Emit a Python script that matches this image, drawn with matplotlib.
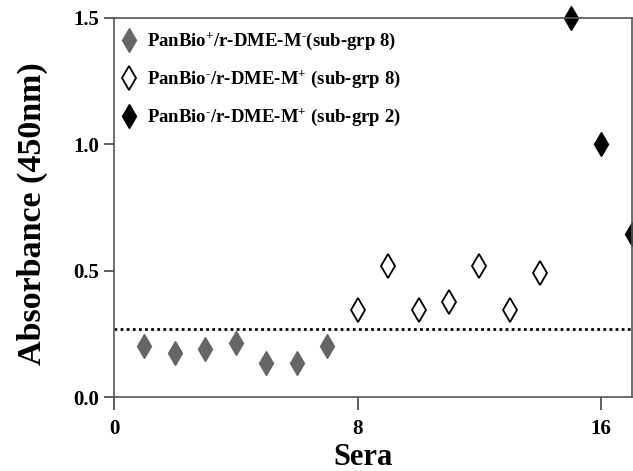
import matplotlib
matplotlib.use("Agg")
import matplotlib.pyplot as plt

plt.rcParams["font.family"] = ["Liberation Serif", "DejaVu Serif"]
plt.rcParams["font.weight"] = "bold"
plt.rcParams["mathtext.fontset"] = "custom"
plt.rcParams["mathtext.rm"] = "Liberation Serif:bold"
plt.rcParams["mathtext.bf"] = "Liberation Serif:bold"
plt.rcParams["mathtext.default"] = "bf"

# sera index and absorbance values
sera_sub8_pos = [1, 2, 3, 4, 5, 6, 7]
abs_sub8_pos = [0.20, 0.173, 0.19, 0.212, 0.133, 0.133, 0.20]

sera_sub8_neg = [8, 9, 10, 11, 12, 13, 14]
abs_sub8_neg = [0.344, 0.52, 0.344, 0.375, 0.52, 0.344, 0.49]

sera_sub2 = [15, 16, 17]
abs_sub2 = [1.50, 1.00, 0.645]

cutoff = 0.268

labels = [
    r"PanBio$^{+}$/r-DME-M$^{\text{-}}$(sub-grp 8)",
    r"PanBio$^{\text{-}}$/r-DME-M$^{+}$ (sub-grp 8)",
    r"PanBio$^{\text{-}}$/r-DME-M$^{+}$ (sub-grp 2)",
]

fig = plt.figure(figsize=(6.33, 4.71), dpi=100)
ax = fig.add_axes([0.180, 0.157, 0.818, 0.805])

ax.plot(sera_sub8_pos, abs_sub8_pos, "d", ms=12.5, color="#666666", mec="#666666",
        ls="none", label=labels[0], clip_on=False)
ax.plot(sera_sub8_neg, abs_sub8_neg, "d", ms=12.5, mfc="white", mec="black", mew=1.3,
        ls="none", label=labels[1], clip_on=False)
ax.plot(sera_sub2, abs_sub2, "d", ms=12.5, color="black", ls="none", label=labels[2],
        clip_on=False)
ax.axhline(cutoff, color="black", ls=(0, (1, 1.2)), lw=2)

ax.set_xlim(0, 17)
ax.set_ylim(0, 1.5)
ax.set_xticks([0, 8, 16])
ax.set_yticks([0.0, 0.5, 1.0, 1.5])
ax.set_yticklabels(["0.0", "0.5", "1.0", "1.5"])
ax.tick_params(direction="out", width=1.2, labelsize=15, color="#444444")
ax.tick_params(axis="x", length=9, pad=7)
ax.tick_params(axis="y", length=7)
for sp in ax.spines.values():
    sp.set_color("#555555")
    sp.set_linewidth(1.2)

ax.set_xlabel("Sera", fontsize=22, fontweight="bold")
ax.set_ylabel("Absorbance (450nm)", fontsize=24.5, fontweight="bold")
ax.xaxis.set_label_coords(0.482, -0.122)
ax.yaxis.set_label_coords(-0.128, 0.483)

ax.legend(loc="upper left", frameon=False, fontsize=13.5, handletextpad=0.55,
          labelspacing=0.9, borderaxespad=0.3, handlelength=0.8,
          bbox_to_anchor=(-0.01, 1.0))

fig.savefig("out.png", dpi=100)
